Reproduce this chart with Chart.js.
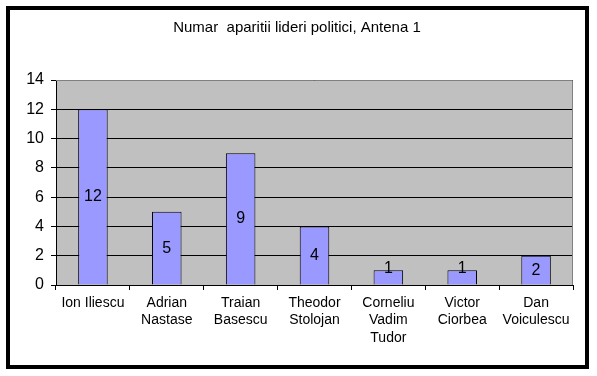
<!DOCTYPE html>
<html>
<head>
<meta charset="utf-8">
<script src="https://cdn.jsdelivr.net/npm/chart.js@4"></script>
<style>
  body { margin: 0; background: #fff; }
  #wrap { position: relative; width: 597px; height: 376px; }
  #frame { position: absolute; left: 6px; top: 6px; width: 575px; height: 355px; border: 4px solid #000; pointer-events: none; }
</style>
</head>
<body>
<div id="wrap">
  <canvas id="myChart" width="597" height="376"></canvas>
  <div id="frame"></div>
</div>
<script>
let chartTitle = 'Numar  aparitii lideri politici, Antena 1';
let chartLabels = [
    'Ion Iliescu',
    ['Adrian', 'Nastase'],
    ['Traian', 'Basescu'],
    ['Theodor', 'Stolojan'],
    ['Corneliu', 'Vadim', 'Tudor'],
    ['Victor', 'Ciorbea'],
    ['Dan', 'Voiculescu']
];
let chartValues = [12, 5, 9, 4, 1, 1, 2];
let yTicks = [0, 2, 4, 6, 8, 10, 12, 14];

// gray plot area
const plotBackground = {
    id: 'plotBackground',
    beforeDraw(chart) {
        let a = chart.chartArea;
        let c = chart.ctx;
        c.save();
        c.fillStyle = '#C0C0C0';
        c.fillRect(a.left, a.top, a.right - a.left, a.bottom - a.top);
        c.restore();
    },
    afterDatasetsDraw(chart) {
        let a = chart.chartArea;
        let c = chart.ctx;
        c.save();
        c.strokeStyle = '#808080';
        c.lineWidth = 1;
        c.beginPath();
        c.moveTo(a.left, a.top + 0.5);
        c.lineTo(a.right - 0.5, a.top + 0.5);
        c.lineTo(a.right - 0.5, a.bottom);
        c.stroke();
        c.restore();
    }
};

// value labels inside the bars
const barLabels = {
    id: 'barLabels',
    afterDatasetsDraw(chart) {
        let c = chart.ctx;
        let meta = chart.getDatasetMeta(0);
        c.save();
        c.font = '16px "Liberation Sans", Arial, sans-serif';
        c.fillStyle = '#000';
        c.textAlign = 'center';
        c.textBaseline = 'middle';
        meta.data.forEach((bar, i) => {
            let h = bar.base - bar.y;
            let y = h < 20 ? bar.y - 2 : bar.y + h / 2;
            c.fillText(chartValues[i], bar.x, y);
        });
        c.restore();
    }
};

let ctx1 = document.getElementById('myChart').getContext('2d');
let myChart = new Chart(ctx1, {
    type: 'bar',
    data: {
        labels: chartLabels,
        datasets: [{
            data: chartValues,
            backgroundColor: '#9999FF',
            borderColor: '#000',
            borderWidth: 1,
            categoryPercentage: 1,
            barPercentage: 0.4
        }]
    },
    options: {
        responsive: false,
        animation: false,
        layout: {
            padding: { left: 21, right: 24, top: 0, bottom: 0 }
        },
        plugins: {
            legend: { display: false },
            tooltip: { enabled: false },
            title: {
                display: true,
                text: chartTitle,
                color: '#000',
                font: { family: '"Liberation Sans", Arial, sans-serif', size: 15, weight: 'normal' },
                padding: { top: 19, bottom: 43 }
            }
        },
        scales: {
            x: {
                grid: {
                    display: true,
                    drawOnChartArea: false,
                    drawTicks: true,
                    tickLength: 5,
                    color: '#000'
                },
                border: { color: '#000', width: 1 },
                ticks: {
                    color: '#000',
                    padding: 4,
                    maxRotation: 0,
                    autoSkip: false,
                    font: { family: '"Liberation Sans", Arial, sans-serif', size: 14, lineHeight: 1.25 }
                },
                afterFit(scale) { scale.height = 91; }
            },
            y: {
                min: 0,
                max: 14,
                afterBuildTicks(scale) { scale.ticks = yTicks.map(v => ({ value: v })); },
                grid: {
                    color: '#000',
                    tickLength: 5
                },
                border: { color: '#000', width: 1 },
                ticks: {
                    color: '#000',
                    padding: 7,
                    font: { family: '"Liberation Sans", Arial, sans-serif', size: 16 }
                },
                afterFit(scale) { scale.width = 35; }
            }
        }
    },
    plugins: [plotBackground, barLabels]
});
</script>
</body>
</html>
